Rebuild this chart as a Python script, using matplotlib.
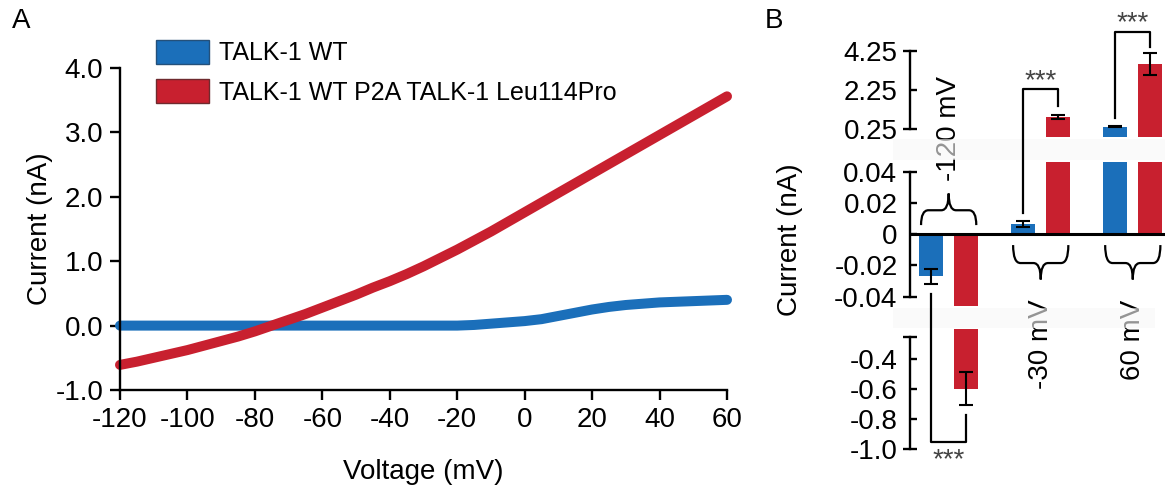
import numpy as np
import matplotlib
matplotlib.use('Agg')
import matplotlib.pyplot as plt
from matplotlib.patches import Patch, PathPatch, Rectangle
from matplotlib.path import Path
from matplotlib.lines import Line2D

plt.rcParams['font.family'] = ['Liberation Sans', 'DejaVu Sans']
plt.rcParams['axes.unicode_minus'] = False

# ---- panel A: I-V curves ----
voltage = list(range(-120, 61, 5))
wt_current = [0.0, 0.0, 0.0, 0.0, 0.0, 0.0, 0.0, 0.0, 0.0, 0.0, 0.0,
              0.0, 0.0, 0.0, 0.0, 0.0, 0.0, 0.0, 0.0, 0.0, 0.0,
              0.01, 0.03, 0.05, 0.07, 0.10, 0.15, 0.20, 0.25, 0.29,
              0.32, 0.34, 0.36, 0.37, 0.38, 0.39, 0.40]
mut_current = [-0.61, -0.56, -0.50, -0.44, -0.38, -0.31, -0.24, -0.17, -0.09,
               0.00, 0.09, 0.18, 0.28, 0.38, 0.48, 0.59, 0.69, 0.80, 0.92,
               1.05, 1.18, 1.32, 1.46, 1.61, 1.76, 1.91, 2.06, 2.21, 2.36,
               2.51, 2.66, 2.81, 2.96, 3.11, 3.26, 3.41, 3.56]
a_xticks = [-120, -100, -80, -60, -40, -20, 0, 20, 40, 60]
a_yticks = [-1.0, 0.0, 1.0, 2.0, 3.0, 4.0]
a_yticklabels = ['-1.0', '0.0', '1.0', '2.0', '3.0', '4.0']
series_names = ['TALK-1 WT', 'TALK-1 WT P2A TALK-1 Leu114Pro']

# ---- panel B: bar chart, broken axis ----
groups = ['-120 mV', '-30 mV', '60 mV']
wt_mean = [-0.027, 0.0065, 0.38]
wt_err = [0.005, 0.002, 0.03]
mut_mean = [-0.595, 0.89, 3.59]
mut_err = [0.11, 0.10, 0.55]

blue = '#1b6fba'
red = '#c8202f'
FS = 20

fig = plt.figure(figsize=(11.65, 4.93), dpi=100)

# ---------- A ----------
axA = fig.add_axes([120/1165, 103/493, 607/1165, 322/493])
axA.plot(voltage, wt_current, color=blue, lw=7.2, solid_capstyle='round', clip_on=False)
axA.plot(voltage, mut_current, color=red, lw=7.2, solid_capstyle='round', clip_on=False)
axA.set_xlim(-120, 60)
axA.set_ylim(-1, 4)
axA.set_xticks(a_xticks)
axA.set_xticklabels([str(v) for v in a_xticks])
axA.set_yticks(a_yticks)
axA.set_yticklabels(a_yticklabels)
for s in ['top', 'right']:
    axA.spines[s].set_visible(False)
for s in ['left', 'bottom']:
    axA.spines[s].set_linewidth(1.7)
axA.tick_params(direction='out', length=7, width=1.7, pad=5, labelsize=FS)
axA.set_xlabel('Voltage (mV)', fontsize=FS, labelpad=19)
fig.text(40/1165, 1 - 229/493, 'Current (nA)', rotation=90, fontsize=FS,
         ha='center', va='center')
handles = [Patch(facecolor=blue, edgecolor='#24507a', lw=1),
           Patch(facecolor=red, edgecolor='#6e2a2e', lw=1)]
fig.legend(handles, series_names, loc='upper left',
           bbox_to_anchor=(156/1165, 1 - 40/493), frameon=False, fontsize=18,
           handlelength=2.1, handleheight=1.1, handletextpad=0.42,
           labelspacing=0.55, borderpad=0, borderaxespad=0)
fig.text(12/1165, 1 - 8/493, 'A', fontsize=FS, va='top', ha='left')
fig.text(765/1165, 1 - 8/493, 'B', fontsize=FS, va='top', ha='left')

# ---------- B ----------
left, width = 910/1165, 255/1165
ax_top = fig.add_axes([left, 1 - 137.3/493, width, 86.3/493])
ax_mid = fig.add_axes([left, 1 - 306/493, width, 143.7/493])
ax_bot = fig.add_axes([left, 1 - 449.3/493, width, 120/493])
off, bw = 0.19, 0.26
x = np.arange(len(groups))

ax_top.set_ylim(-0.16, 4.25)
ax_mid.set_ylim(-0.046, 0.046)
ax_bot.set_ylim(-1.0, -0.2)

for ax in (ax_top, ax_mid, ax_bot):
    ax.patch.set_visible(False)
    ax.set_xlim(-0.42, 2.35)
    ax.set_xticks([])
    for s in ['top', 'right', 'bottom']:
        ax.spines[s].set_visible(False)
    ax.spines['left'].set_linewidth(1.7)
    ax.tick_params(which='major', direction='inout', length=10, width=1.7,
                   pad=4, labelsize=FS)
    ax.tick_params(which='minor', direction='in', length=5, width=1.7,
                   pad=9, labelsize=FS)

for ax in (ax_mid, ax_bot):
    ax.bar(x - off, wt_mean, bw, color=blue)
    ax.bar(x + off, mut_mean, bw, color=red)
    ax.errorbar(x - off, wt_mean, yerr=wt_err, fmt='none', ecolor='k',
                elinewidth=1.5, capsize=5, capthick=1.5)
    ax.errorbar(x + off, mut_mean, yerr=mut_err, fmt='none', ecolor='k',
                elinewidth=1.5, capsize=5, capthick=1.5)

# top segment only shows the bars that reach above its lower bound
low = ax_top.get_ylim()[0]
wt_top = np.array([v if v > 0.25 else np.nan for v in wt_mean])
mut_top = np.array([v if v > 0.25 else np.nan for v in mut_mean])
ax_top.bar(x - off, wt_top - low, bw, bottom=low, color=blue)
ax_top.bar(x + off, mut_top - low, bw, bottom=low, color=red)
ax_top.errorbar(x - off, wt_top, yerr=wt_err, fmt='none', ecolor='k',
                elinewidth=1.5, capsize=5, capthick=1.5)
ax_top.errorbar(x + off, mut_top, yerr=mut_err, fmt='none', ecolor='k',
                elinewidth=1.5, capsize=5, capthick=1.5)

ax_mid.axhline(0, color='k', lw=2.2)

ax_top.set_yticks([0.25, 4.25], ['0.25', '4.25'])
ax_top.set_yticks([2.25], ['2.25'], minor=True)
ax_top.spines['left'].set_bounds(0.25, 4.25)
ax_mid.set_yticks([-0.04, 0.04], ['-0.04', '0.04'])
ax_mid.set_yticks([-0.02, 0, 0.02], ['-0.02', '0', '0.02'], minor=True)
ax_mid.spines['left'].set_bounds(-0.04, 0.04)
ax_bot.set_yticks([-1.0, -0.25], ['-1.0', ''])
ax_bot.set_yticks([-0.8, -0.6, -0.4], ['-0.8', '-0.6', '-0.4'], minor=True)
ax_bot.spines['left'].set_bounds(-1.0, -0.25)

fig.text(790/1165, 1 - 240/493, 'Current (nA)', rotation=90, fontsize=FS,
         ha='center', va='center')


def brace(ax, xc, half, ytip, yflat, ypt, r=0.08):
    verts = [(xc - half, ytip), (xc - half, yflat), (xc - half + r, yflat),
             (xc - r, yflat), (xc, yflat), (xc, ypt),
             (xc, yflat), (xc + r, yflat),
             (xc + half - r, yflat), (xc + half, yflat), (xc + half, ytip)]
    codes = [Path.MOVETO, Path.CURVE3, Path.CURVE3, Path.LINETO,
             Path.CURVE3, Path.CURVE3, Path.CURVE3, Path.CURVE3,
             Path.LINETO, Path.CURVE3, Path.CURVE3]
    ax.add_patch(PathPatch(Path(verts, codes), fill=False, lw=1.6,
                           edgecolor='k', clip_on=False))


brace(ax_mid, 0, 0.3, 0.0058, 0.0153, 0.026)
brace(ax_mid, 1, 0.3, -0.007, -0.0185, -0.029)
brace(ax_mid, 2, 0.3, -0.007, -0.0185, -0.029)
ax_mid.text(0, 0.034, groups[0], rotation=90, ha='center', va='bottom', fontsize=FS)
ax_mid.text(1, -0.042, groups[1], rotation=90, ha='center', va='top', fontsize=FS)
ax_mid.text(2, -0.042, groups[2], rotation=90, ha='center', va='top', fontsize=FS)


def fxy(ax, xx, yy):
    return fig.transFigure.inverted().transform(ax.transData.transform((xx, yy)))


def bracket(pts):
    xy = np.array([fxy(a, xx, yy) for a, xx, yy in pts])
    fig.add_artist(Line2D(xy[:, 0], xy[:, 1], transform=fig.transFigure,
                          color='k', lw=1.6))


bracket([(ax_mid, 1 - off, 0.0135), (ax_top, 1 - off, 2.29),
         (ax_top, 1 + off, 2.29), (ax_top, 1 + off, 1.44)])
bracket([(ax_top, 2 - off, 0.82), (ax_top, 2 - off, 5.24),
         (ax_top, 2 + off, 5.24), (ax_top, 2 + off, 4.47)])
bracket([(ax_mid, 0 - off, -0.038), (ax_bot, 0 - off, -0.95),
         (ax_bot, 0 + off, -0.95), (ax_bot, 0 + off, -0.772)])

for ax, xx, yy, va in [(ax_top, 1, 2.35, 'baseline'), (ax_top, 2, 5.30, 'baseline'),
                       (ax_bot, 0, -0.985, 'top')]:
    fx, fy = fxy(ax, xx, yy)
    fig.text(fx, fy, '***', ha='center', va=va, fontsize=20, color='#444444')

# very faint, semi-transparent axis-break bands
fig.add_artist(Rectangle((893/1165, 1 - 160/493), 272/1165, 21/493,
                         transform=fig.transFigure, color='#f8f8f8',
                         alpha=0.6, lw=0))
fig.add_artist(Rectangle((893/1165, 1 - 328/493), 262/1165, 20/493,
                         transform=fig.transFigure, color='#f8f8f8',
                         alpha=0.6, lw=0))

fig.savefig('out.png', dpi=100)
